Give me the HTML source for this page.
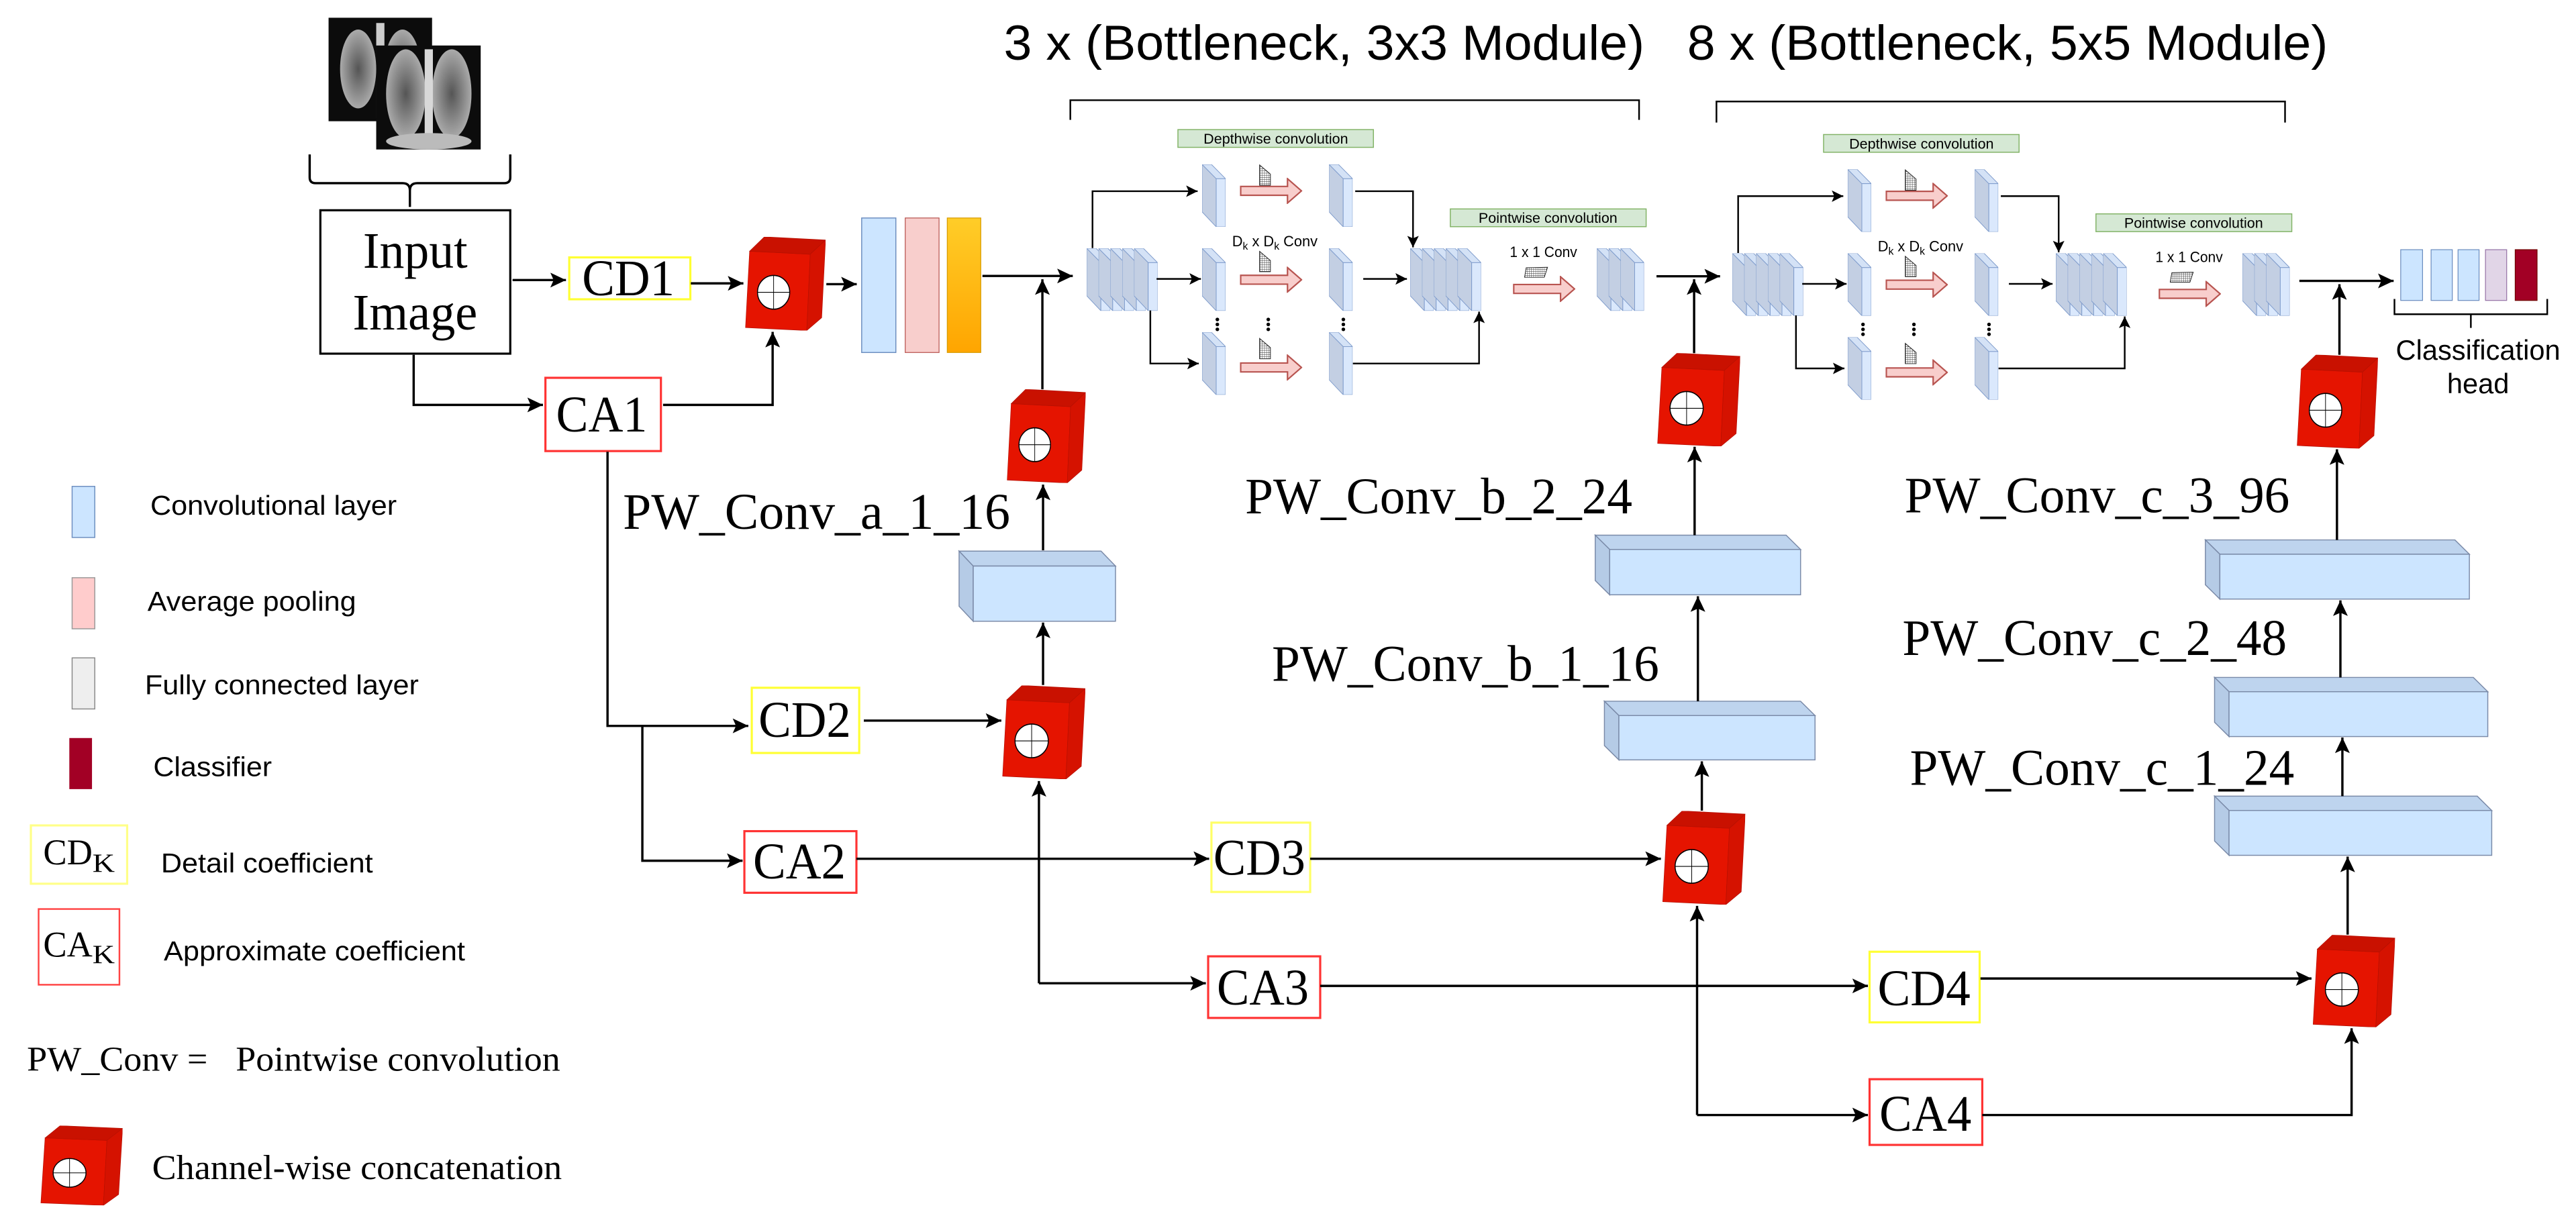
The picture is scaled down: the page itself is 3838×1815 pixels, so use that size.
<!DOCTYPE html>
<html><head><meta charset="utf-8"><style>html,body{margin:0;padding:0;background:#fff}svg{display:block}</style></head><body>
<svg xmlns="http://www.w3.org/2000/svg" xmlns:xlink="http://www.w3.org/1999/xlink" width="3838" height="1815" viewBox="0 0 1568 741.5" preserveAspectRatio="none">
<defs>
<marker id="ah" markerUnits="userSpaceOnUse" markerWidth="11" markerHeight="11" refX="9.5" refY="4.5" orient="auto"><path d="M0,0 L9.5,4.5 L0,9 L2,4.5 z" fill="#000"/></marker>
<marker id="as" markerUnits="userSpaceOnUse" markerWidth="8" markerHeight="8" refX="7" refY="3.5" orient="auto"><path d="M0,0 L7,3.5 L0,7 L1.5,3.5 z" fill="#000"/></marker>
<symbol id="cube" viewBox="0 0 100 100" preserveAspectRatio="none">
<polygon points="5.7,15.3 81,18.5 76.7,100 0.6,96.9" fill="#e51400" stroke="#b81000" stroke-width="0.6"/>
<polygon points="5.7,15.3 24,0 100,3.4 81,18.5" fill="#c91100" stroke="#b81000" stroke-width="0.6"/>
<polygon points="81,18.5 100,3.4 95.2,86.3 76.7,100" fill="#d51200" stroke="#b81000" stroke-width="0.6"/>
<ellipse cx="35.5" cy="59.2" rx="20" ry="18" fill="#fff" stroke="#000" stroke-width="1.2"/>
<line x1="15.5" y1="59.2" x2="55.5" y2="59.2" stroke="#000" stroke-width="0.8"/>
<line x1="35.5" y1="41.2" x2="35.5" y2="77.2" stroke="#000" stroke-width="0.8"/>
</symbol>
<symbol id="slab" viewBox="0 0 14.3 38" preserveAspectRatio="none">
<polygon points="0,0 8.6,8.7 8.6,38 0,28.9" fill="#c3cfe3" stroke="#7f9ccc" stroke-width="0.4"/>
<polygon points="0,0 5.7,0 14.3,8.7 8.6,8.7" fill="#d4e2f6" stroke="#7f9ccc" stroke-width="0.4"/>
<rect x="8.6" y="8.7" width="5.7" height="29.3" fill="#dae8fc" stroke="#7f9ccc" stroke-width="0.4"/>
</symbol>
<symbol id="rarrow" viewBox="0 0 38 16" preserveAspectRatio="none">
<polygon points="0.5,5.3 29,5.3 29,0.6 37.5,8 29,15.4 29,10.7 0.5,10.7" fill="#f8cecc" stroke="#b85450" stroke-width="0.9"/>
</symbol>
<pattern id="grid" width="1.3" height="1.3" patternUnits="userSpaceOnUse"><path d="M0,0 H1.3 M0,0 V1.3" stroke="#222" stroke-width="0.35" fill="none"/></pattern>
<radialGradient id="lung" cx="50%" cy="50%" r="50%"><stop offset="0" stop-color="#555"/><stop offset="1" stop-color="#aaa"/></radialGradient>
<linearGradient id="og" x1="0" y1="0" x2="0" y2="1"><stop offset="0" stop-color="#ffcd28"/><stop offset="1" stop-color="#ffa500"/></linearGradient>
</defs>

<g>
<rect x="200" y="10.8" width="63" height="63" fill="#0c0c0c"/>
<ellipse cx="218" cy="42" rx="11" ry="24" fill="url(#lung)"/>
<ellipse cx="245" cy="42" rx="11" ry="24" fill="url(#lung)"/>
<rect x="229" y="14" width="5" height="58" fill="#ccc"/>
<rect x="229" y="27.7" width="63.6" height="63.3" fill="#0c0c0c"/>
<ellipse cx="247" cy="57" rx="12" ry="27" fill="url(#lung)"/>
<ellipse cx="275" cy="57" rx="12" ry="27" fill="url(#lung)"/>
<rect x="258.5" y="30" width="5" height="60" fill="#d8d8d8"/>
<ellipse cx="261" cy="86" rx="26" ry="5" fill="#bbb"/>
</g>
<path d="M188.5,94 V108 Q188.5,111.5 192,111.5 H245 Q249.5,111.5 249.5,116 V126 M249.5,116 Q249.5,111.5 254,111.5 H307 Q310.6,111.5 310.6,108 V94" fill="none" stroke="#000" stroke-width="1.4"/>

<rect x="195" y="128" width="115.6" height="87.3" fill="#fff" stroke="#000" stroke-width="1.3"/>
<g font-family="Liberation Serif, serif" fill="#000">
<text x="221" y="163" font-size="31" textLength="63.6" lengthAdjust="spacingAndGlyphs">Input</text>
<text x="214.7" y="200.5" font-size="31" textLength="75.9" lengthAdjust="spacingAndGlyphs">Image</text>
</g>

<g fill="#fff" stroke-width="1.3">
<rect x="346.5" y="156.7" width="73.7" height="25.5" stroke="#ffff33"/>
<rect x="332" y="230" width="70.3" height="44.6" stroke="#ff3333"/>
<rect x="457.6" y="418.7" width="65.4" height="39.7" stroke="#ffff33"/>
<rect x="453.1" y="506" width="68.2" height="37.5" stroke="#ff3333"/>
<rect x="737.4" y="500.8" width="60.1" height="42.2" stroke="#ffff66"/>
<rect x="735.4" y="582.2" width="68.2" height="37.5" stroke="#ff3333"/>
<rect x="1138" y="579.4" width="67" height="43" stroke="#ffff33"/>
<rect x="1138" y="657" width="68.6" height="40" stroke="#ff3333"/>
</g>
<g font-family="Liberation Serif, serif" font-size="31" fill="#000">
<text x="354.3" y="179.8" textLength="56.3" lengthAdjust="spacingAndGlyphs">CD1</text>
<text x="338.5" y="262.6" textLength="55.5" lengthAdjust="spacingAndGlyphs">CA1</text>
<text x="461.7" y="448.5" textLength="56.3" lengthAdjust="spacingAndGlyphs">CD2</text>
<text x="458.4" y="534.8" textLength="56.4" lengthAdjust="spacingAndGlyphs">CA2</text>
<text x="738.6" y="532.5" textLength="56" lengthAdjust="spacingAndGlyphs">CD3</text>
<text x="740.7" y="611.5" textLength="56" lengthAdjust="spacingAndGlyphs">CA3</text>
<text x="1142.9" y="612" textLength="56.5" lengthAdjust="spacingAndGlyphs">CD4</text>
<text x="1144" y="688.3" textLength="56" lengthAdjust="spacingAndGlyphs">CA4</text>
</g>

<rect x="524.5" y="132.7" width="20.8" height="81.9" fill="#cce5ff" stroke="#6c8ebf" stroke-width="0.6"/>
<rect x="551" y="132.7" width="20.6" height="81.9" fill="#f8cecc" stroke="#b85450" stroke-width="0.5"/>
<rect x="576.6" y="132.7" width="20.4" height="81.9" fill="url(#og)" stroke="#d79b00" stroke-width="0.5"/>

<g font-family="Liberation Sans, sans-serif" font-size="30" fill="#000">
<text x="611" y="36.4" textLength="390" lengthAdjust="spacingAndGlyphs">3 x (Bottleneck, 3x3 Module)</text>
<text x="1027" y="36.4" textLength="390" lengthAdjust="spacingAndGlyphs">8 x (Bottleneck, 5x5 Module)</text>
</g>
<path d="M651.5,73 V61 H997.7 V73" fill="none" stroke="#000" stroke-width="1"/>
<path d="M1044.8,74.6 V61.8 H1390.9 V74.6" fill="none" stroke="#000" stroke-width="1"/>

<g id="mod">
<rect x="717" y="78.9" width="119" height="10.8" fill="#d5e8d4" stroke="#82b366" stroke-width="0.6"/>
<text x="732.6" y="87.4" font-family="Liberation Sans, sans-serif" font-size="8.5" textLength="88" lengthAdjust="spacingAndGlyphs">Depthwise convolution</text>
<rect x="882.8" y="127.2" width="119.2" height="10.8" fill="#d5e8d4" stroke="#82b366" stroke-width="0.6"/>
<text x="900" y="135.7" font-family="Liberation Sans, sans-serif" font-size="8.5" textLength="84.5" lengthAdjust="spacingAndGlyphs">Pointwise convolution</text>
<use xlink:href="#slab" x="661.5" y="151.2" width="14.3" height="38"/>
<use xlink:href="#slab" x="668.7" y="151.2" width="14.3" height="38"/>
<use xlink:href="#slab" x="675.9" y="151.2" width="14.3" height="38"/>
<use xlink:href="#slab" x="683.1" y="151.2" width="14.3" height="38"/>
<use xlink:href="#slab" x="690.3" y="151.2" width="14.3" height="38"/>
<use xlink:href="#slab" x="731.7" y="100.1" width="14.3" height="38"/>
<use xlink:href="#slab" x="809" y="100.1" width="14.3" height="38"/>
<use xlink:href="#slab" x="731.7" y="151.2" width="14.3" height="38"/>
<use xlink:href="#slab" x="809" y="151.2" width="14.3" height="38"/>
<use xlink:href="#slab" x="731.7" y="202.3" width="14.3" height="38"/>
<use xlink:href="#slab" x="809" y="202.3" width="14.3" height="38"/>
<use xlink:href="#slab" x="858.4" y="151.2" width="14.3" height="38"/>
<use xlink:href="#slab" x="865.6" y="151.2" width="14.3" height="38"/>
<use xlink:href="#slab" x="872.8" y="151.2" width="14.3" height="38"/>
<use xlink:href="#slab" x="880" y="151.2" width="14.3" height="38"/>
<use xlink:href="#slab" x="887.2" y="151.2" width="14.3" height="38"/>
<use xlink:href="#slab" x="972" y="151.2" width="14.3" height="38"/>
<use xlink:href="#slab" x="979.2" y="151.2" width="14.3" height="38"/>
<use xlink:href="#slab" x="986.4" y="151.2" width="14.3" height="38"/>
<use xlink:href="#rarrow" x="754.7" y="108.2" width="38" height="16"/>
<use xlink:href="#rarrow" x="754.7" y="162.3" width="38" height="16"/>
<use xlink:href="#rarrow" x="754.7" y="215.7" width="38" height="16"/>
<use xlink:href="#rarrow" x="920.9" y="167.9" width="38" height="16"/>
<polygon points="766.7,100.4 773.3,106 773.3,112.8 766.7,112.8" fill="url(#grid)" stroke="#222" stroke-width="0.4"/>
<polygon points="766.7,153 773.3,158.6 773.3,165.4 766.7,165.4" fill="url(#grid)" stroke="#222" stroke-width="0.4"/>
<polygon points="766.7,206 773.3,211.6 773.3,218.4 766.7,218.4" fill="url(#grid)" stroke="#222" stroke-width="0.4"/>
<polygon points="929,163 942,162.7 940,168.8 928,168.8" fill="url(#grid)" stroke="#222" stroke-width="0.4"/>
<text x="750" y="150" font-family="Liberation Sans, sans-serif" font-size="9" textLength="52" lengthAdjust="spacingAndGlyphs">D<tspan font-size="6.5" dy="2">k</tspan><tspan dy="-2"> x D</tspan><tspan font-size="6.5" dy="2">k</tspan><tspan dy="-2"> Conv</tspan></text>
<text x="919" y="156.5" font-family="Liberation Sans, sans-serif" font-size="9" textLength="41" lengthAdjust="spacingAndGlyphs">1 x 1 Conv</text>
<g fill="#000">
<circle cx="741" cy="194.5" r="1.1"/><circle cx="741" cy="197.5" r="1.1"/><circle cx="741" cy="200.5" r="1.1"/>
<circle cx="772" cy="194.5" r="1.1"/><circle cx="772" cy="197.5" r="1.1"/><circle cx="772" cy="200.5" r="1.1"/>
<circle cx="817.7" cy="194.5" r="1.1"/><circle cx="817.7" cy="197.5" r="1.1"/><circle cx="817.7" cy="200.5" r="1.1"/>
</g>
<g fill="none" stroke="#000" stroke-width="1" marker-end="url(#as)">
<path d="M665,151 V116.4 H729"/>
<path d="M704,169.8 H731"/>
<path d="M700.2,189 V221.3 H729.7"/>
<path d="M824.9,116.4 H860.1 V150.6"/>
<path d="M829.8,169.8 H856.4"/>
<path d="M823.5,221.3 H900.3 V189.7"/>
</g>
</g>
<use xlink:href="#mod" transform="translate(393,3)"/>

<rect x="1461.3" y="152" width="13.3" height="30.9" fill="#cce5ff" stroke="#6c8ebf" stroke-width="0.5"/>
<rect x="1479.8" y="152" width="12.9" height="30.9" fill="#cce5ff" stroke="#6c8ebf" stroke-width="0.5"/>
<rect x="1496.2" y="152" width="12.8" height="30.9" fill="#cce5ff" stroke="#6c8ebf" stroke-width="0.5"/>
<rect x="1512.9" y="152" width="12.9" height="30.9" fill="#e1d5e7" stroke="#9673a6" stroke-width="0.5"/>
<rect x="1531" y="152" width="13.3" height="30.9" fill="#a20025" stroke="#6f0000" stroke-width="0.5"/>
<path d="M1457.5,182 V191.3 H1550.5 V182 M1504,191.3 V199.6" fill="none" stroke="#000" stroke-width="1"/>
<g font-family="Liberation Sans, sans-serif" font-size="17" fill="#000" text-anchor="middle">
<text x="1508.4" y="218.9">Classification</text>
<text x="1508.4" y="239.5">head</text>
</g>

<g stroke="#7a8aa8" stroke-width="0.6">
<g transform="translate(583.8,335.5)"><polygon points="0,0 86.4,0 95.2,9.1 8.6,9.1" fill="#bed4ee"/><polygon points="0,0 8.6,9.1 8.6,42.7 0,33.6" fill="#b5cbe6"/><rect x="8.6" y="9.1" width="86.6" height="33.6" fill="#cce5ff"/></g>
<g transform="translate(971,325.8)"><polygon points="0,0 116.2,0 125,8.7 8.8,8.7" fill="#bed4ee"/><polygon points="0,0 8.8,8.7 8.8,36.3 0,27.6" fill="#b5cbe6"/><rect x="8.8" y="8.7" width="116.2" height="27.6" fill="#cce5ff"/></g>
<g transform="translate(976.6,426.9)"><polygon points="0,0 119.4,0 128.2,8.7 8.8,8.7" fill="#bed4ee"/><polygon points="0,0 8.8,8.7 8.8,35.7 0,27" fill="#b5cbe6"/><rect x="8.8" y="8.7" width="119.4" height="27" fill="#cce5ff"/></g>
<g transform="translate(1342.4,328.7)"><polygon points="0,0 151.9,0 160.7,8.7 8.8,8.7" fill="#bed4ee"/><polygon points="0,0 8.8,8.7 8.8,36 0,27.3" fill="#b5cbe6"/><rect x="8.8" y="8.7" width="151.9" height="27.3" fill="#cce5ff"/></g>
<g transform="translate(1348,412.4)"><polygon points="0,0 157.5,0 166.3,8.7 8.8,8.7" fill="#bed4ee"/><polygon points="0,0 8.8,8.7 8.8,36 0,27.3" fill="#b5cbe6"/><rect x="8.8" y="8.7" width="157.5" height="27.3" fill="#cce5ff"/></g>
<g transform="translate(1348,484.7)"><polygon points="0,0 159.9,0 168.7,8.7 8.8,8.7" fill="#bed4ee"/><polygon points="0,0 8.8,8.7 8.8,36 0,27.3" fill="#b5cbe6"/><rect x="8.8" y="8.7" width="159.9" height="27.3" fill="#cce5ff"/></g>
</g>
<g font-family="Liberation Serif, serif" font-size="31" fill="#000">
<text x="379.2" y="321.9" textLength="235.7" lengthAdjust="spacingAndGlyphs">PW_Conv_a_1_16</text>
<text x="757.9" y="312.5" textLength="235.7" lengthAdjust="spacingAndGlyphs">PW_Conv_b_2_24</text>
<text x="774.2" y="414.5" textLength="235.7" lengthAdjust="spacingAndGlyphs">PW_Conv_b_1_16</text>
<text x="1159.3" y="312" textLength="234.4" lengthAdjust="spacingAndGlyphs">PW_Conv_c_3_96</text>
<text x="1158" y="398.7" textLength="234" lengthAdjust="spacingAndGlyphs">PW_Conv_c_2_48</text>
<text x="1162.5" y="477.7" textLength="234" lengthAdjust="spacingAndGlyphs">PW_Conv_c_1_24</text>
</g>

<use xlink:href="#cube" x="453.5" y="144.2" width="49" height="57"/>
<use xlink:href="#cube" x="612.8" y="237" width="48" height="57"/>
<use xlink:href="#cube" x="610" y="417.3" width="50.6" height="57"/>
<use xlink:href="#cube" x="1011.8" y="493.7" width="50.5" height="57"/>
<use xlink:href="#cube" x="1008.7" y="215" width="50.5" height="56.7"/>
<use xlink:href="#cube" x="1407.7" y="569.2" width="50.1" height="56.1"/>
<use xlink:href="#cube" x="1398" y="216" width="49.4" height="57"/>

<g fill="none" stroke="#000" stroke-width="1.4" marker-end="url(#ah)">
<path d="M312,170.5 H344.5"/>
<path d="M420.5,172.5 H452.5"/>
<path d="M503,173 H521.5"/>
<path d="M598,168 H653"/>
<path d="M634.5,237 V170"/>
<path d="M251.8,216 V246.5 H330.5"/>
<path d="M403.6,246.5 H470.3 V202"/>
<path d="M369.8,275 V441.9 H455.5"/>
<path d="M391,441.9 V524 H452"/>
<path d="M525.8,438.7 H609.5"/>
<path d="M634.9,417 V379"/>
<path d="M634.9,335 V295"/>
<path d="M632.4,598.6 V475.5"/>
<path d="M632.4,598.6 H734"/>
<path d="M521.3,522.8 H736"/>
<path d="M797.5,522.8 H1011"/>
<path d="M803.6,600.2 H1137"/>
<path d="M1205.5,595.7 H1407"/>
<path d="M1033,678.8 V551.5"/>
<path d="M1033,678.8 H1137"/>
<path d="M1206.6,678.8 H1431.4 V626"/>
<path d="M1035.9,493.5 V463.5"/>
<path d="M1033.5,426.9 V363"/>
<path d="M1031.5,325.8 V272"/>
<path d="M1031.2,215 V170"/>
<path d="M1008.3,168.2 H1047"/>
<path d="M1429,569 V521.5"/>
<path d="M1425.8,484.7 V449"/>
<path d="M1424.6,412.4 V365.5"/>
<path d="M1422.5,328.7 V273.5"/>
<path d="M1424,216 V173"/>
<path d="M1399.6,171 H1457"/>
</g>

<rect x="43.9" y="296.1" width="13.8" height="31.1" fill="#cce5ff" stroke="#6c8ebf" stroke-width="0.6"/>
<rect x="43.9" y="351.7" width="13.8" height="31.1" fill="#ffcccc" stroke="#999" stroke-width="0.6"/>
<rect x="43.9" y="400.5" width="13.8" height="31.1" fill="#eeeeee" stroke="#888" stroke-width="0.6"/>
<rect x="42.2" y="449.3" width="13.8" height="31.1" fill="#a20025"/>
<rect x="18.8" y="502.5" width="58.6" height="35.5" fill="#fff" stroke="#ffff88" stroke-width="1.3"/>
<rect x="23.5" y="553.4" width="49.2" height="46.1" fill="#fff" stroke="#ff4444" stroke-width="1"/>
<g font-family="Liberation Sans, sans-serif" font-size="16.5" fill="#000">
<text x="91.5" y="313.3" textLength="150" lengthAdjust="spacingAndGlyphs">Convolutional layer</text>
<text x="89.8" y="371.8" textLength="127" lengthAdjust="spacingAndGlyphs">Average pooling</text>
<text x="88.2" y="422.7" textLength="166.7" lengthAdjust="spacingAndGlyphs">Fully connected layer</text>
<text x="93.3" y="472.4" textLength="72.2" lengthAdjust="spacingAndGlyphs">Classifier</text>
<text x="98" y="531.2" textLength="129" lengthAdjust="spacingAndGlyphs">Detail coefficient</text>
<text x="99.7" y="584.7" textLength="183.4" lengthAdjust="spacingAndGlyphs">Approximate coefficient</text>
</g>
<g font-family="Liberation Serif, serif" fill="#000">
<text x="26.3" y="526.2" font-size="22" textLength="30" lengthAdjust="spacingAndGlyphs">CD</text>
<text x="56.3" y="530.6" font-size="16" textLength="13.6" lengthAdjust="spacingAndGlyphs">K</text>
<text x="26.3" y="582.4" font-size="22" textLength="30" lengthAdjust="spacingAndGlyphs">CA</text>
<text x="56.3" y="586.2" font-size="16" textLength="13.6" lengthAdjust="spacingAndGlyphs">K</text>
<text x="16.4" y="651.9" font-size="21" textLength="110" lengthAdjust="spacingAndGlyphs">PW_Conv =</text>
<text x="143.5" y="651.9" font-size="21" textLength="197.5" lengthAdjust="spacingAndGlyphs">Pointwise convolution</text>
<text x="92.6" y="717.8" font-size="21" textLength="249.4" lengthAdjust="spacingAndGlyphs">Channel-wise concatenation</text>
</g>
<use xlink:href="#cube" x="24.6" y="685.3" width="50" height="48.5"/>
</svg>
</body></html>
